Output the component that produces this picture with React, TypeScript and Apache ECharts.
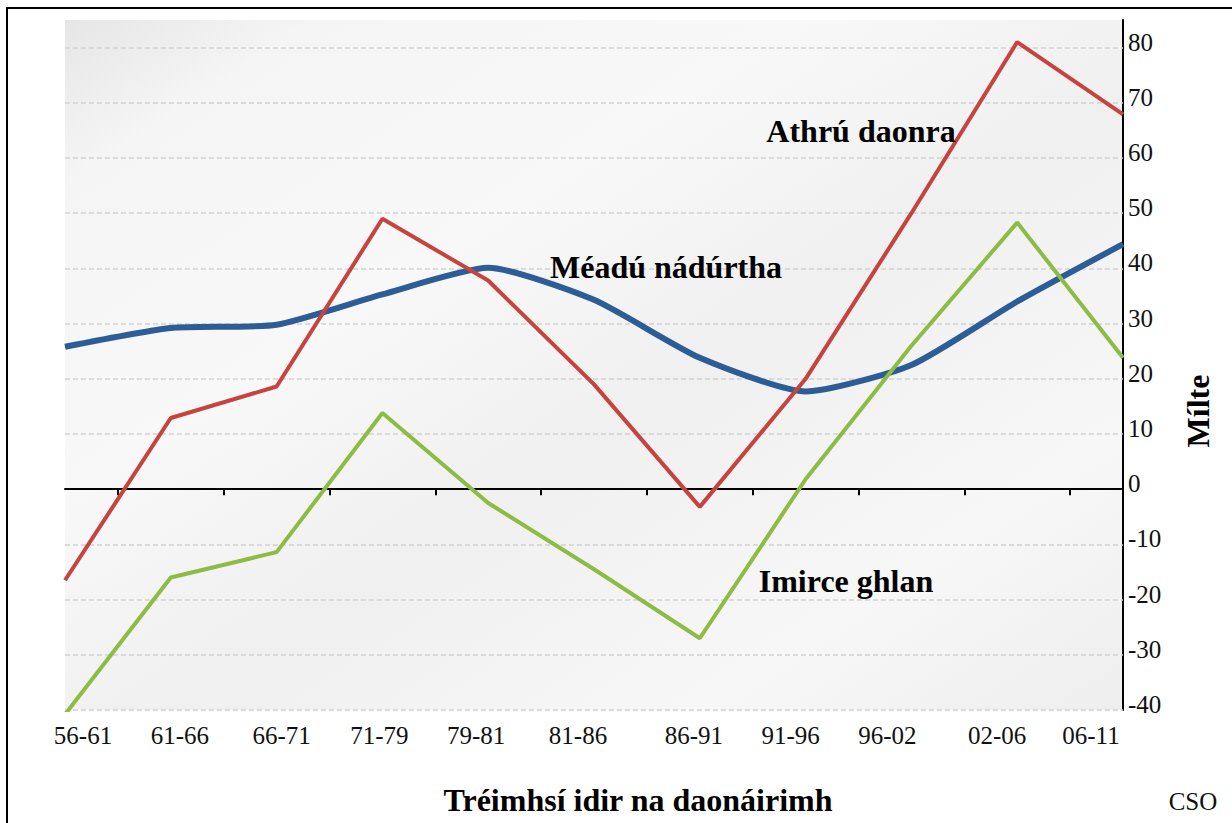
import React, { useEffect, useRef } from "react";
import * as echarts from "echarts";

// ---- data ----
const CATEGORIES = ["56-61", "61-66", "66-71", "71-79", "79-81", "81-86", "86-91", "91-96", "96-02", "02-06", "06-11"];
const POP_CHANGE = [-16.5, 12.9, 18.6, 49.0, 37.8, 19.0, -3.2, 20.0, 50.0, 81.0, 67.9];
const NATURAL_INCREASE = [25.8, 29.2, 29.8, 35.3, 40.1, 34.3, 23.8, 17.7, 22.5, 34.0, 44.4];
const NET_MIGRATION = [-40.8, -16.0, -11.4, 13.8, -2.5, -14.5, -27.0, 1.8, 26.0, 48.3, 23.8];
const GRID_VALUES = [-40, -30, -20, -10, 10, 20, 30, 40, 50, 60, 70, 80];
const Y_MIN = -40;
const Y_MAX = 85;
const Y_STEP = 10;

const SERIES_NAMES = { pop: "Athrú daonra", nat: "Méadú nádúrtha", mig: "Imirce ghlan" };
const X_TITLE = "Tréimhsí idir na daonáirimh";
const Y_TITLE = "Mílte";
const SOURCE = "CSO";

// label nudges (style): shift of each x label centre in px
const LABEL_NUDGE = [18, 9, 5, -3, -12, -16, -6, -15, -24, -20, -32];

const FONT = "'Liberation Serif', 'Times New Roman', serif";

export default function App() {
  const ref = useRef<HTMLDivElement>(null);

  useEffect(() => {
    if (!ref.current) return;
    const chart = echarts.init(ref.current, undefined, { renderer: "svg" });

    const tickSlots = Array.from({ length: CATEGORIES.length * 2 - 1 }, (_, i) => "t" + i);

    const rich: Record<string, any> = {};
    LABEL_NUDGE.forEach((d, i) => {
      rich["l" + i] = {
        fontFamily: FONT,
        fontSize: 25,
        color: "#111",
        padding: d >= 0 ? [0, 0, 0, 2 * d] : [0, -2 * d, 0, 0],
      };
    });

    const option: any = {
      animation: false,
      backgroundColor: "#ffffff",
      grid: {
        left: 65,
        right: 109,
        top: 20,
        bottom: 113,
        show: true,
        borderWidth: 0,
        backgroundColor: {
          type: "linear",
          x: 0,
          y: 0,
          x2: 1,
          y2: 1,
          colorStops: [
            { offset: 0, color: "#e6e6e6" },
            { offset: 0.12, color: "#f5f5f5" },
            { offset: 0.35, color: "#f8f8f8" },
            { offset: 0.55, color: "#f0f0f0" },
            { offset: 0.8, color: "#f7f7f7" },
            { offset: 1, color: "#eeeeee" },
          ],
        },
      },
      xAxis: [
        {
          type: "category",
          data: CATEGORIES,
          boundaryGap: false,
          position: "bottom",
          axisLine: { show: false, onZero: false },
          axisTick: { show: false },
          splitLine: { show: false },
          axisLabel: {
            interval: 0,
            margin: 13,
            fontFamily: FONT,
            fontSize: 25,
            color: "#111",
            formatter: (v: string, i: number) => `{l${i}|${v}}`,
            rich,
          },
        },
        {
          type: "category",
          data: tickSlots,
          boundaryGap: false,
          position: "bottom",
          axisLine: { show: true, onZero: true, lineStyle: { color: "#000", width: 2 } },
          axisTick: {
            show: true,
            interval: (i: number) => i % 2 === 1,
            length: 6,
            inside: false,
            lineStyle: { color: "#000", width: 2 },
          },
          axisLabel: { show: false },
          splitLine: { show: false },
        },
      ],
      yAxis: {
        type: "value",
        position: "right",
        min: Y_MIN,
        max: Y_MAX,
        interval: Y_STEP,
        axisLine: { show: true, onZero: false, lineStyle: { color: "#000", width: 2 } },
        axisTick: { show: false },
        splitLine: { show: false },
        axisLabel: {
          showMaxLabel: false,
          margin: 5,
          fontFamily: FONT,
          fontSize: 25,
          color: "#111",
          formatter: (v: number) => `{y|${v}}`,
          rich: {
            y: { fontFamily: FONT, fontSize: 25, color: "#111", padding: [0, 0, 11, 0] },
          },
        },
      },
      series: [
        {
          name: SERIES_NAMES.nat,
          type: "line",
          data: NATURAL_INCREASE,
          xAxisIndex: 0,
          smooth: 0.2,
          symbol: "none",
          lineStyle: { color: "#2d5d97", width: 6 },
          z: 3,
          markLine: {
            silent: true,
            symbol: ["none", "none"],
            label: { show: false },
            lineStyle: { color: "#d2d2d2", width: 1.5, type: [5, 3] },
            data: GRID_VALUES.map((v) => ({ yAxis: v })),
            z: 1,
          },
        },
        {
          name: SERIES_NAMES.mig,
          type: "line",
          data: NET_MIGRATION,
          xAxisIndex: 0,
          symbol: "none",
          lineStyle: { color: "#8dbb43", width: 4 },
          z: 3,
        },
        {
          name: SERIES_NAMES.pop,
          type: "line",
          data: POP_CHANGE,
          xAxisIndex: 0,
          symbol: "none",
          lineStyle: { color: "#c6433f", width: 4 },
          z: 3,
        },
      ],
      graphic: [
        {
          type: "rect",
          shape: { x: 7, y: 8, width: 1300, height: 900 },
          style: { fill: "none", stroke: "#000", lineWidth: 2 },
          silent: true,
          z: 100,
        },
        {
          type: "text",
          x: 861,
          y: 131,
          style: { text: SERIES_NAMES.pop, font: `bold 32px ${FONT}`, fill: "#000", align: "center", verticalAlign: "middle" },
          z: 50,
        },
        {
          type: "text",
          x: 666,
          y: 267,
          style: { text: SERIES_NAMES.nat, font: `bold 32px ${FONT}`, fill: "#000", align: "center", verticalAlign: "middle" },
          z: 50,
        },
        {
          type: "text",
          x: 846,
          y: 581,
          style: { text: SERIES_NAMES.mig, font: `bold 32px ${FONT}`, fill: "#000", align: "center", verticalAlign: "middle" },
          z: 50,
        },
        {
          type: "text",
          x: 638,
          y: 800,
          style: { text: X_TITLE, font: `bold 32px ${FONT}`, fill: "#000", align: "center", verticalAlign: "middle" },
          z: 50,
        },
        {
          type: "text",
          x: 1198,
          y: 411,
          rotation: Math.PI / 2,
          style: { text: Y_TITLE, font: `bold 32px ${FONT}`, fill: "#000", align: "center", verticalAlign: "middle" },
          z: 50,
        },
        {
          type: "text",
          x: 1193,
          y: 801,
          style: { text: SOURCE, font: `25px ${FONT}`, fill: "#111", align: "center", verticalAlign: "middle" },
          z: 50,
        },
      ],
    };

    chart.setOption(option);
    return () => chart.dispose();
  }, []);

  return (
    <div
      ref={ref}
      style={{ position: "absolute", left: 0, top: 0, width: 1232, height: 823 }}
    />
  );
}
